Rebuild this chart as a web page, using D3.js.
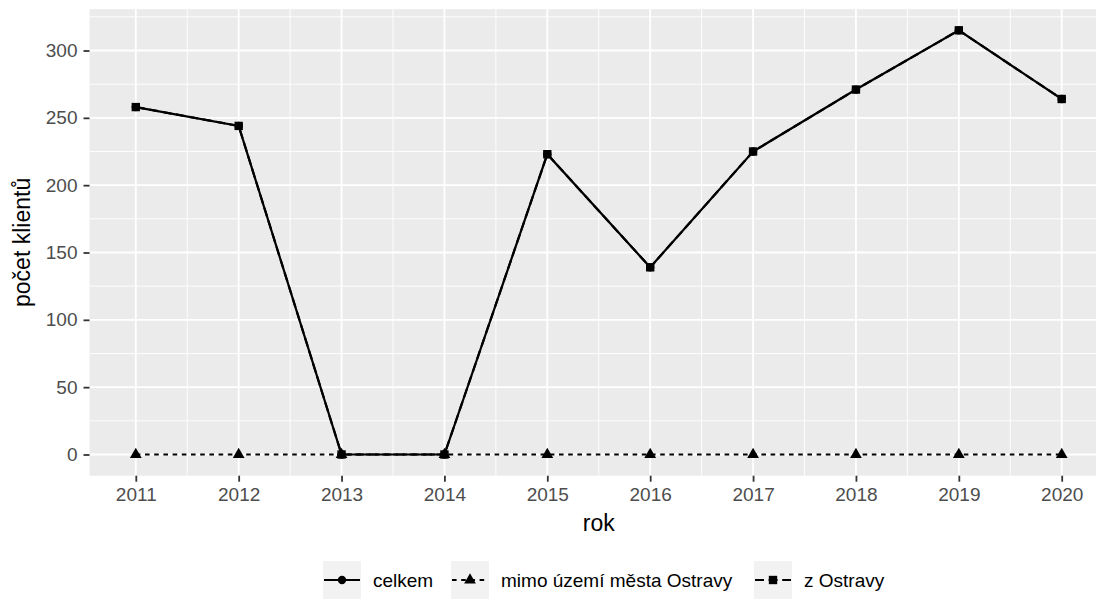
<!DOCTYPE html>
<html><head><meta charset="utf-8">
<script src="https://cdn.jsdelivr.net/npm/d3@7"></script>
<style>body{margin:0;background:#fff}svg{display:block}text{font-family:"Liberation Sans",Arial,sans-serif}</style>
</head><body><svg id="c" width="1096" height="606"></svg>
<script>
const years = [2011,2012,2013,2014,2015,2016,2017,2018,2019,2020];
const celkem = [258,244,0,0,223,139,225,271,315,264];
const mimo = [0,0,0,0,0,0,0,0,0,0];
const zOstravy = [258,244,0,0,223,139,225,271,315,264];
const seriesNames = ["celkem","mimo území města Ostravy","z Ostravy"];
const yTicks = [0,50,100,150,200,250,300];

const svg = d3.select("#c");
const P={l:89.5,r:1108,t:9.1,b:475.7};
const maxV = d3.max(celkem.concat(zOstravy));
const yr = [0,maxV]; const ye=(yr[1]-yr[0])*0.05;
const y = d3.scaleLinear().domain([yr[0]-ye,yr[1]+ye]).range([P.b,P.t]);
const xe = (years[years.length-1]-years[0])*0.05;
const x = d3.scaleLinear().domain([years[0]-xe,years[years.length-1]+xe]).range([P.l,P.r]);

svg.append("rect").attr("x",P.l).attr("y",P.t).attr("width",P.r-P.l).attr("height",P.b-P.t).attr("fill","#ebebeb");
const g = svg.append("g");
const yMinor = yTicks.slice(0,-1).map((d,i)=>(d+yTicks[i+1])/2).concat([yTicks[yTicks.length-1]+25]).filter(v=>v<y.domain()[1]);
g.selectAll(".ym").data(yMinor).join("line").attr("x1",P.l).attr("x2",P.r).attr("y1",d=>y(d)).attr("y2",d=>y(d)).attr("stroke","#fff").attr("stroke-width",0.9);
const xMinor = years.slice(0,-1).map((d,i)=>d+0.5);
g.selectAll(".xm").data(xMinor).join("line").attr("y1",P.t).attr("y2",P.b).attr("x1",d=>x(d)).attr("x2",d=>x(d)).attr("stroke","#fff").attr("stroke-width",0.9);
g.selectAll(".yM").data(yTicks).join("line").attr("x1",P.l).attr("x2",P.r).attr("y1",d=>y(d)).attr("y2",d=>y(d)).attr("stroke","#fff").attr("stroke-width",1.8);
g.selectAll(".xM").data(years).join("line").attr("y1",P.t).attr("y2",P.b).attr("x1",d=>x(d)).attr("x2",d=>x(d)).attr("stroke","#fff").attr("stroke-width",1.8);

const ax = svg.append("g").attr("transform",`translate(0,${P.b})`).call(d3.axisBottom(x).tickValues(years).tickFormat(d3.format("d")).tickSize(6).tickPadding(6));
const ay = svg.append("g").attr("transform",`translate(${P.l},0)`).call(d3.axisLeft(y).tickValues(yTicks).tickSize(6).tickPadding(6));
[ax,ay].forEach(a=>{a.select(".domain").remove();a.selectAll(".tick line").attr("stroke","#333").attr("stroke-width",1.8);
 a.selectAll(".tick text").attr("fill","#4d4d4d").style("font-size","19px");});

svg.append("text").attr("x",(P.l+P.r)/2).attr("y",531).attr("text-anchor","middle").style("font-size","23px").attr("fill","#000").text("rok");
svg.append("text").attr("transform",`translate(30,${(P.t+P.b)/2}) rotate(-90)`).attr("text-anchor","middle").style("font-size","23px").text("počet klientů");

const data = [celkem,mimo,zOstravy];
const dashes = [null,"4.6,4.6","9,4.6"];
const line = d3.line().x((d,i)=>x(years[i])).y(d=>y(d));
data.forEach((s,k)=>{
  svg.append("path").datum(s).attr("d",line).attr("fill","none").attr("stroke","#000").attr("stroke-width",2.2).attr("stroke-dasharray",dashes[k]);
});
const sym = [d3.symbolCircle,d3.symbolTriangle,d3.symbolSquare];
const symSize=[55,60,70];
data.forEach((s,k)=>{
  svg.append("g").selectAll("path").data(s).join("path").attr("transform",(d,i)=>`translate(${x(years[i])},${y(d)})`)
   .attr("d",d3.symbol(sym[k],symSize[k])).attr("fill","#000");
});

const leg = svg.append("g");
const keyX=[323,451,754]; const ly=580; const ks=38;
seriesNames.forEach((n,k)=>{
  const gg=leg.append("g").attr("transform",`translate(${keyX[k]},${ly})`);
  gg.append("rect").attr("x",0).attr("y",-ks/2).attr("width",ks).attr("height",ks).attr("fill","#f2f2f2");
  gg.append("line").attr("x1",1).attr("x2",ks-1).attr("y1",0).attr("y2",0).attr("stroke","#000").attr("stroke-width",2.2).attr("stroke-dasharray",dashes[k]);
  gg.append("path").attr("transform",`translate(${ks/2},0)`).attr("d",d3.symbol(sym[k],symSize[k])).attr("fill","#000");
  gg.append("text").attr("x",ks+12).attr("dy","0.35em").style("font-size","19px").text(n);
});
</script></body></html>
